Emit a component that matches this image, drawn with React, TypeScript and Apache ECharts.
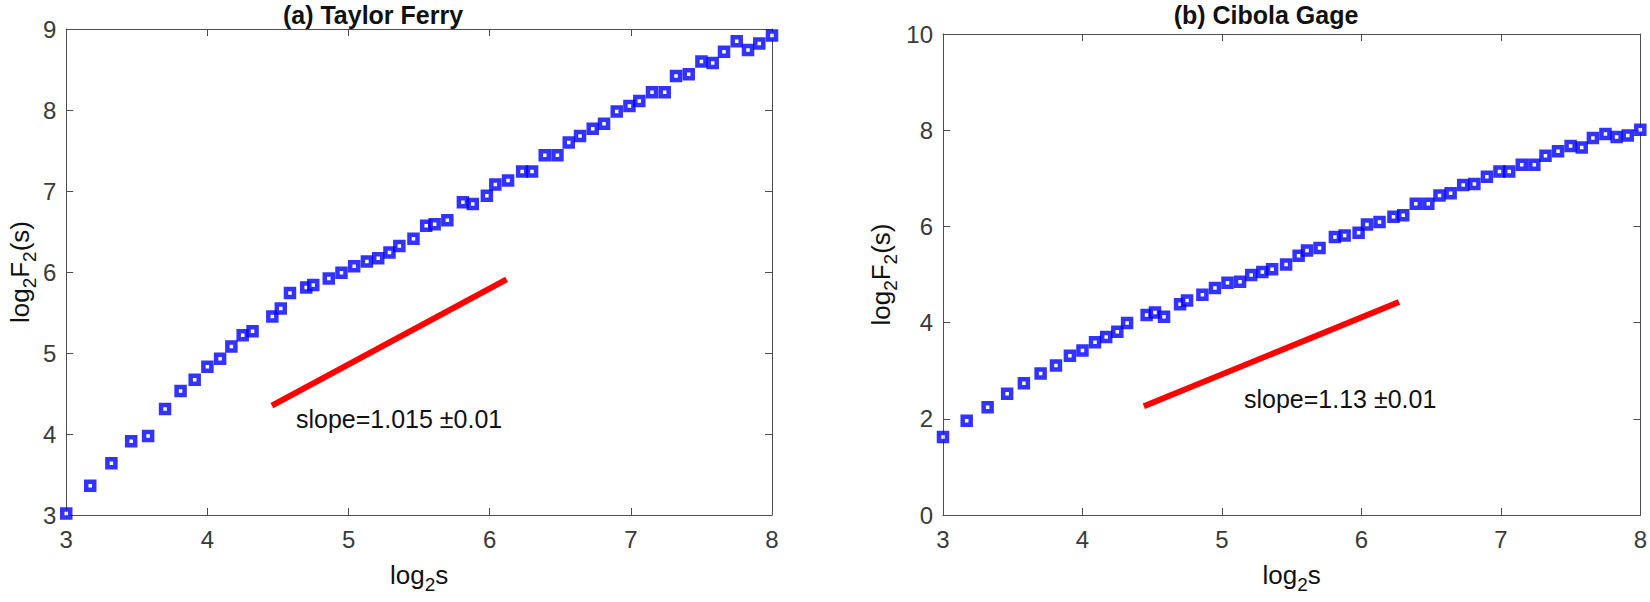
import React, { useEffect, useRef } from "react";
import * as echarts from "echarts";

// log2 s (shared scale values)
const log2s = [3.0, 3.17, 3.32, 3.46, 3.58, 3.70, 3.81, 3.91, 4.0, 4.09, 4.17, 4.25, 4.32, 4.46, 4.52, 4.585, 4.70, 4.75, 4.86, 4.95, 5.04, 5.13, 5.21, 5.29, 5.36, 5.46, 5.55, 5.61, 5.70, 5.81, 5.88, 5.98, 6.04, 6.13, 6.23, 6.30, 6.39, 6.48, 6.56, 6.64, 6.73, 6.81, 6.90, 6.99, 7.06, 7.15, 7.24, 7.32, 7.41, 7.50, 7.58, 7.66, 7.75, 7.83, 7.91, 8.0];
// (a) Taylor Ferry log2 F2(s)
const taylorF = [3.02, 3.36, 3.64, 3.91, 3.975, 4.31, 4.53, 4.67, 4.83, 4.93, 5.08, 5.22, 5.27, 5.45, 5.55, 5.74, 5.81, 5.84, 5.92, 5.99, 6.07, 6.13, 6.17, 6.24, 6.32, 6.41, 6.57, 6.59, 6.64, 6.86, 6.84, 6.94, 7.08, 7.13, 7.24, 7.24, 7.44, 7.44, 7.60, 7.68, 7.77, 7.83, 7.98, 8.05, 8.11, 8.22, 8.22, 8.42, 8.44, 8.60, 8.58, 8.72, 8.85, 8.74, 8.82, 8.92];
// (b) Cibola Gage log2 F2(s)
const cibolaF = [1.62, 1.96, 2.24, 2.52, 2.74, 2.94, 3.11, 3.31, 3.42, 3.59, 3.70, 3.81, 3.99, 4.16, 4.21, 4.12, 4.38, 4.46, 4.58, 4.72, 4.83, 4.85, 4.99, 5.05, 5.11, 5.21, 5.39, 5.50, 5.55, 5.78, 5.81, 5.87, 6.04, 6.09, 6.20, 6.23, 6.47, 6.47, 6.64, 6.69, 6.86, 6.88, 7.03, 7.14, 7.14, 7.28, 7.28, 7.47, 7.56, 7.67, 7.64, 7.84, 7.92, 7.86, 7.89, 8.01];
// reference slope lines [x, y]
const slopeLineA = [[4.457, 4.35], [6.12, 5.91]];
const slopeLineB = [[4.44, 2.26], [6.27, 4.43]];
const slopeTextA = "slope=1.015 ±0.01";
const slopeTextB = "slope=1.13 ±0.01";
const titleA = "(a) Taylor Ferry";
const titleB = "(b) Cibola Gage";
// axis ranges
const xRange = [3, 8, 1];
const yRangeA = [3, 9, 1];
const yRangeB = [0, 10, 2];

const FONT = "'Liberation Sans', Arial, Helvetica, sans-serif";
const AXIS_COLOR = "#4d4d4d";
const LABEL_COLOR = "#3a3a3a";

const nameRich = {
  n: { fontSize: 26, fontFamily: FONT, color: "#111", lineHeight: 32 },
  s: { fontSize: 19, fontFamily: FONT, color: "#111", lineHeight: 19, padding: [19, 0, 0, 0] },
};

function xAxes(gridIndex: number, withName: boolean) {
  const base = {
    gridIndex,
    type: "value",
    min: xRange[0],
    max: xRange[1],
    interval: xRange[2],
    splitLine: { show: false },
    axisLine: { show: true, onZero: false, lineStyle: { color: AXIS_COLOR, width: 1 } },
    axisTick: { show: true, inside: true, length: 7, lineStyle: { color: AXIS_COLOR } },
  };
  return [
    {
      ...base,
      position: "bottom",
      axisLabel: { show: true, fontSize: 24, fontFamily: FONT, color: LABEL_COLOR, margin: 12 },
      name: withName ? "{n|log}{s|2}{n|s}" : "",
      nameLocation: "middle",
      nameGap: 42,
      nameTextStyle: { rich: nameRich },
    },
    { ...base, position: "top", axisLabel: { show: false } },
  ];
}

function yAxes(gridIndex: number, range: number[], nameGap: number) {
  const base = {
    gridIndex,
    type: "value",
    min: range[0],
    max: range[1],
    interval: range[2],
    splitLine: { show: false },
    axisLine: { show: true, onZero: false, lineStyle: { color: AXIS_COLOR, width: 1 } },
    axisTick: { show: true, inside: true, length: 7, lineStyle: { color: AXIS_COLOR } },
  };
  return [
    {
      ...base,
      position: "left",
      axisLabel: { show: true, fontSize: 24, fontFamily: FONT, color: LABEL_COLOR, margin: 10 },
      name: "{n|log}{s|2}{n|F}{s|2}{n|(s)}",
      nameLocation: "middle",
      nameRotate: 90,
      nameGap,
      nameTextStyle: { rich: nameRich },
    },
    { ...base, position: "right", axisLabel: { show: false } },
  ];
}

const markerStyle = { color: "#ffffff", borderColor: "#0000ff", borderWidth: 4.5 };

export default function App() {
  const ref = useRef<HTMLDivElement>(null);
  useEffect(() => {
    if (!ref.current) return;
    const chart = echarts.init(ref.current, null, { renderer: "svg" });
    const option = {
      animation: false,
      backgroundColor: "#ffffff",
      grid: [
        { left: 66, top: 29, width: 706, height: 486 },
        { left: 943, top: 34, width: 699, height: 481 },
      ],
      xAxis: [...xAxes(0, true), ...xAxes(1, true)],
      yAxis: [...yAxes(0, yRangeA, 28), ...yAxes(1, yRangeB, 46)],
      series: [
        {
          type: "line",
          xAxisIndex: 0,
          yAxisIndex: 0,
          data: slopeLineA,
          symbol: "none",
          lineStyle: { color: "#ff0000", width: 6, cap: "butt" },
          z: 1,
        },
        {
          type: "scatter",
          xAxisIndex: 0,
          yAxisIndex: 0,
          data: log2s.map((x, i) => [x, taylorF[i]]),
          symbol: "rect",
          symbolSize: 8,
          itemStyle: markerStyle,
          clip: false,
          z: 2,
        },
        {
          type: "line",
          xAxisIndex: 2,
          yAxisIndex: 2,
          data: slopeLineB,
          symbol: "none",
          lineStyle: { color: "#ff0000", width: 6, cap: "butt" },
          z: 1,
        },
        {
          type: "scatter",
          xAxisIndex: 2,
          yAxisIndex: 2,
          data: log2s.map((x, i) => [x, cibolaF[i]]),
          symbol: "rect",
          symbolSize: 8,
          itemStyle: markerStyle,
          clip: false,
          z: 2,
        },
      ],
      graphic: [
        {
          type: "text",
          x: 373,
          y: 15,
          style: { text: titleA, fontSize: 25, fontWeight: "bold", fontFamily: FONT, fill: "#111", textAlign: "center", textVerticalAlign: "middle" },
        },
        {
          type: "text",
          x: 1266,
          y: 15,
          style: { text: titleB, fontSize: 25, fontWeight: "bold", fontFamily: FONT, fill: "#111", textAlign: "center", textVerticalAlign: "middle" },
        },
        {
          type: "text",
          x: 296,
          y: 419,
          style: { text: slopeTextA, fontSize: 25, fontFamily: FONT, fill: "#111", textAlign: "left", textVerticalAlign: "middle" },
        },
        {
          type: "text",
          x: 1244,
          y: 399,
          style: { text: slopeTextB, fontSize: 25, fontFamily: FONT, fill: "#111", textAlign: "left", textVerticalAlign: "middle" },
        },
      ],
    };
    chart.setOption(option as any);
    return () => chart.dispose();
  }, []);
  return (
    <div
      ref={ref}
      style={{ position: "fixed", left: 0, top: 0, width: 1650, height: 602, background: "#ffffff" }}
    />
  );
}
